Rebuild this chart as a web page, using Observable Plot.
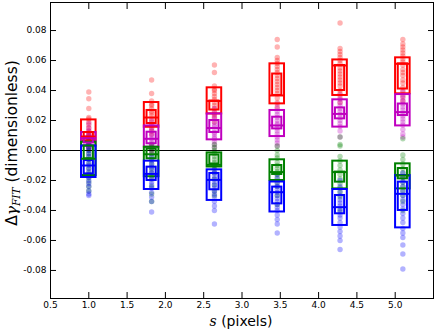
<!DOCTYPE html>
<html><head><meta charset="utf-8">
<script src="https://cdn.jsdelivr.net/npm/d3@7"></script>
<script src="https://cdn.jsdelivr.net/npm/@observablehq/plot@0.6"></script>
<style>body{margin:0;background:#fff;} svg{display:block;}</style>
</head><body><div id="chart"></div>
<script>
const positions = [1.0, 1.82, 2.64, 3.46, 4.28, 5.10];
const xTicks = [0.5, 1.0, 1.5, 2.0, 2.5, 3.0, 3.5, 4.0, 4.5, 5.0];
const yTicks = [-0.08, -0.06, -0.04, -0.02, 0.00, 0.02, 0.04, 0.06, 0.08];
const seriesNames = ["red", "magenta", "green", "blue"];
const seriesColors = ["#ff0000", "#bf00bf", "#008000", "#0000ff"];

// box statistics per series, one value per position
const redLo = [0.0065, 0.0155, 0.0244, 0.0311, 0.0367, 0.0378];
const redHi = [0.0204, 0.0320, 0.0418, 0.0578, 0.0604, 0.0618];
const redInLo = [0.0080, 0.0180, 0.0270, 0.0367, 0.0400, 0.0410];
const redInHi = [0.0120, 0.0267, 0.0330, 0.0510, 0.0567, 0.0578];
const redMed = [0.0093, 0.0220, 0.0330, 0.0367, 0.0567, 0.0578];

const magLo = [0.0030, 0.0022, 0.0071, 0.0093, 0.0156, 0.0164];
const magHi = [0.0120, 0.0164, 0.0244, 0.0267, 0.0338, 0.0373];
const magInLo = [0.0050, 0.0045, 0.0120, 0.0144, 0.0211, 0.0233];
const magInHi = [0.0090, 0.0122, 0.0200, 0.0222, 0.0284, 0.0310];
const magMed = [0.0082, 0.0078, 0.0150, 0.0167, 0.0244, 0.0256];

const grnLo = [-0.0167, -0.0175, -0.0110, -0.0200, -0.0256, -0.0256];
const grnHi = [0.0055, 0.0022, -0.0016, -0.0062, -0.0071, -0.0089];
const grnInLo = [-0.0055, -0.0055, -0.0090, -0.0160, -0.0211, -0.0189];
const grnInHi = [0.0030, 0.0010, -0.0030, -0.0100, -0.0144, -0.0120];
const grnMed = [-0.0055, -0.0025, -0.0096, -0.0144, -0.0144, -0.0167];

const bluLo = [-0.0180, -0.0260, -0.0333, -0.0410, -0.0500, -0.0516];
const bluHi = [0.0030, -0.0071, -0.0129, -0.0210, -0.0260, -0.0167];
const bluInLo = [-0.0156, -0.0200, -0.0262, -0.0356, -0.0422, -0.0400];
const bluInHi = [-0.0067, -0.0111, -0.0153, -0.0244, -0.0300, -0.0211];
const bluMed = [-0.0100, -0.0156, -0.0196, -0.0278, -0.0378, -0.0289];

// individual samples per series and position
const redPts = [
  [0.039, 0.0345, 0.028, 0.022, 0.021, 0.019, 0.017, 0.015, 0.013, 0.012, 0.011, 0.010, 0.009, 0.008, 0.007, 0.006, 0.004, 0.002],
  [0.047, 0.038, 0.033, 0.031, 0.030, 0.028, 0.026, 0.025, 0.023, 0.021, 0.019, 0.017, 0.015, 0.013, 0.011],
  [0.057, 0.052, 0.043, 0.041, 0.040, 0.038, 0.036, 0.034, 0.032, 0.030, 0.028, 0.026, 0.024, 0.022, 0.019],
  [0.074, 0.069, 0.062, 0.060, 0.058, 0.056, 0.054, 0.052, 0.050, 0.048, 0.046, 0.044, 0.042, 0.040, 0.038, 0.035, 0.032, 0.029],
  [0.085, 0.068, 0.066, 0.064, 0.062, 0.060, 0.058, 0.055, 0.053, 0.051, 0.049, 0.047, 0.045, 0.043, 0.040, 0.038, 0.035, 0.032],
  [0.074, 0.071, 0.069, 0.067, 0.065, 0.063, 0.061, 0.059, 0.057, 0.054, 0.052, 0.050, 0.047, 0.045, 0.042, 0.039, 0.036, 0.033]
];
const magPts = [
  [0.018, 0.015, 0.013, 0.011, 0.010, 0.009, 0.008, 0.007, 0.006, 0.005, 0.004, 0.003, 0.002, 0.001],
  [0.020, 0.017, 0.015, 0.013, 0.011, 0.010, 0.008, 0.007, 0.005, 0.004, 0.003, 0.002, 0.000, -0.002],
  [0.028, 0.025, 0.023, 0.021, 0.019, 0.017, 0.016, 0.014, 0.012, 0.011, 0.009, 0.008, 0.006, 0.004, 0.002],
  [0.031, 0.028, 0.026, 0.024, 0.022, 0.020, 0.018, 0.017, 0.015, 0.013, 0.011, 0.009, 0.007, 0.005, 0.003],
  [0.037, 0.034, 0.032, 0.030, 0.028, 0.026, 0.024, 0.022, 0.020, 0.018, 0.016, 0.013, 0.009],
  [0.040, 0.037, 0.035, 0.033, 0.031, 0.029, 0.027, 0.025, 0.023, 0.021, 0.019, 0.017, 0.014, 0.011, 0.009]
];
const grnPts = [
  [0.006, 0.004, 0.002, 0.000, -0.002, -0.004, -0.006, -0.009, -0.012, -0.015, -0.018, -0.021, -0.024, -0.027],
  [0.004, 0.002, 0.000, -0.002, -0.004, -0.006, -0.009, -0.012, -0.015, -0.019, -0.024, -0.029, -0.034],
  [0.004, 0.002, 0.000, -0.002, -0.004, -0.006, -0.008, -0.010, -0.012, -0.015, -0.019, -0.023, -0.027, -0.030],
  [0.003, 0.000, -0.003, -0.005, -0.008, -0.010, -0.012, -0.014, -0.016, -0.018, -0.021, -0.024, -0.030, -0.036],
  [0.009, 0.004, 0.003, -0.004, -0.007, -0.010, -0.013, -0.016, -0.019, -0.022, -0.025, -0.028, -0.031, -0.040],
  [0.0078, -0.003, -0.006, -0.009, -0.012, -0.015, -0.018, -0.021, -0.024, -0.027, -0.030, -0.034, -0.040]
];
const bluPts = [
  [0.004, 0.002, 0.000, -0.002, -0.004, -0.006, -0.008, -0.010, -0.012, -0.014, -0.016, -0.018, -0.020, -0.022, -0.024, -0.027, -0.029, -0.030],
  [-0.004, -0.007, -0.009, -0.011, -0.013, -0.015, -0.017, -0.019, -0.021, -0.023, -0.025, -0.028, -0.031, -0.034, -0.041],
  [-0.010, -0.013, -0.015, -0.017, -0.019, -0.021, -0.023, -0.025, -0.027, -0.029, -0.031, -0.034, -0.037, -0.040, -0.049],
  [-0.016, -0.019, -0.022, -0.024, -0.026, -0.028, -0.030, -0.032, -0.034, -0.036, -0.038, -0.040, -0.043, -0.046, -0.049, -0.055],
  [-0.020, -0.024, -0.027, -0.030, -0.033, -0.035, -0.037, -0.039, -0.041, -0.043, -0.045, -0.048, -0.051, -0.054, -0.057, -0.060, -0.066],
  [-0.015, -0.018, -0.021, -0.024, -0.027, -0.030, -0.033, -0.036, -0.039, -0.042, -0.045, -0.048, -0.052, -0.055, -0.058, -0.063, -0.069, -0.079]
];

const stats = [
  [redLo, redHi, redInLo, redInHi, redMed, redPts],
  [magLo, magHi, magInLo, magInHi, magMed, magPts],
  [grnLo, grnHi, grnInLo, grnInHi, grnMed, grnPts],
  [bluLo, bluHi, bluInLo, bluInHi, bluMed, bluPts]
];

const W = 0.19, WI = 0.12;
const boxes = [], inner = [], meds = [], pts = [];
stats.forEach(([lo, hi, ilo, ihi, med, p], s) => {
  const color = seriesColors[s];
  positions.forEach((x, i) => {
    boxes.push({x1: x - W / 2, x2: x + W / 2, y1: lo[i], y2: hi[i], color, s});
    inner.push({x1: x - WI / 2, x2: x + WI / 2, y1: ilo[i], y2: ihi[i], color, s});
    meds.push({x1: x - W / 2, x2: x + W / 2, y: med[i], color, s});
    p[i].forEach(v => pts.push({x, y: v, color, s}));
  });
});

const yDom = [-0.0987, 0.0987];
const fmt = d => d.toFixed(2);
const fmtX = d => d.toFixed(1);
const none = () => "";

const plot = Plot.plot({
  width: 436, height: 330,
  marginLeft: 50, marginRight: 3, marginTop: 2, marginBottom: 32,
  style: {fontFamily: "DejaVu Sans", fontSize: "9px", color: "black", background: "white"},
  x: {domain: [0.5, 5.5], label: null},
  y: {domain: yDom, label: null},
  marks: [
    Plot.dot(pts, {x: "x", y: "y", r: 2.7, fill: d => d.color, fillOpacity: 0.3, stroke: "none"}),
    Plot.ruleY([0], {stroke: "black", strokeWidth: 1.2}),
    Plot.rect(boxes, {x1: "x1", x2: "x2", y1: "y1", y2: "y2", stroke: d => d.color, fill: "none", strokeWidth: 2}),
    Plot.rect(inner, {x1: "x1", x2: "x2", y1: "y1", y2: "y2", stroke: d => d.color, fill: "none", strokeWidth: 2}),
    Plot.ruleY(meds, {x1: "x1", x2: "x2", y: "y", stroke: d => d.color, strokeWidth: 2}),
    Plot.frame({stroke: "black", strokeWidth: 1}),
    Plot.axisY(yTicks, {anchor: "left", tickSize: 0, tickPadding: 4, tickFormat: fmt}),
    Plot.axisY(yTicks, {anchor: "left", tickSize: 6, dx: 6, tickFormat: none, stroke: "black"}),
    Plot.axisY(yTicks, {anchor: "right", tickSize: 6, dx: -6, tickFormat: none, stroke: "black"}),
    Plot.axisX(xTicks, {anchor: "bottom", tickSize: 0, tickPadding: 3, tickFormat: fmtX}),
    Plot.axisX(xTicks, {anchor: "bottom", tickSize: 6, dy: -6, tickFormat: none, stroke: "black"}),
    Plot.axisX(xTicks, {anchor: "top", tickSize: 6, dy: 6, tickFormat: none, stroke: "black"})
  ]
});
document.getElementById("chart").appendChild(plot);

const svg = d3.select(plot);
const yl = svg.append("text")
  .attr("transform", "translate(17,143) rotate(-90)")
  .attr("text-anchor", "middle")
  .attr("font-family", "DejaVu Sans").attr("font-size", 15.5).attr("fill", "black");
yl.append("tspan").text("Δ");
yl.append("tspan").attr("font-family", "DejaVu Serif").attr("font-style", "italic").text("γ");
yl.append("tspan").attr("font-family", "DejaVu Serif").attr("font-style", "italic").attr("font-size", 10.5).attr("dy", 3).text("FIT");
yl.append("tspan").attr("dy", -3).text(" (dimensionless)");

const xl = svg.append("text")
  .attr("transform", "translate(241,326)")
  .attr("text-anchor", "middle")
  .attr("font-family", "DejaVu Sans").attr("font-size", 14).attr("fill", "black");
xl.append("tspan").attr("font-family", "DejaVu Serif").attr("font-style", "italic").text("s");
xl.append("tspan").text(" (pixels)");
</script></body></html>
